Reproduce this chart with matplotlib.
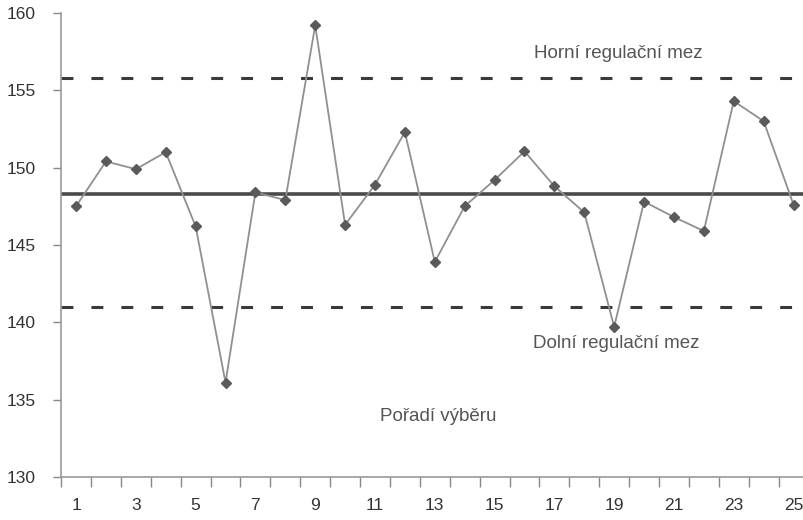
import matplotlib
matplotlib.use("Agg")
import matplotlib.pyplot as plt
import numpy as np

# sample order and measured values
samples = np.arange(1, 26)
values = [147.5, 150.4, 149.9, 151.0, 146.2, 136.1, 148.4, 147.9, 159.2, 146.3,
          148.9, 152.3, 143.9, 147.5, 149.2, 151.05, 148.8, 147.1, 139.7, 147.8,
          146.8, 145.9, 154.3, 153.0, 147.6]
center_line = 148.3
upper_limit = 155.8
lower_limit = 141.0
x_labels = [str(i) for i in range(1, 26, 2)]
y_ticks = [130, 135, 140, 145, 150, 155, 160]

plt.rcParams['font.family'] = ['Liberation Sans', 'DejaVu Sans']

fig = plt.figure(figsize=(8.04, 5.2), dpi=100)
ax = fig.add_axes([0.076, 0.083, 0.924, 0.892])

ax.axhline(center_line, color='#4a4a4a', lw=2.6, zorder=2)
ax.axhline(upper_limit, color='#3a3a3a', lw=2.2, ls=(0, (3.9, 5.9)), zorder=2)
ax.axhline(lower_limit, color='#3a3a3a', lw=2.2, ls=(0, (3.9, 5.9)), zorder=2)
ax.plot(samples, values, color='#909090', lw=1.3, marker='D', ms=5.5,
        mfc='#5a5a5a', mec='#5a5a5a', zorder=3)

ax.text(19.13, 157.4, 'Horní regulační mez', fontsize=13.5, color='#555555',
        ha='center', va='center')
ax.text(19.07, 138.6, 'Dolní regulační mez', fontsize=13.5, color='#555555',
        ha='center', va='center')
ax.text(13.13, 133.9, 'Pořadí výběru', fontsize=13.5, color='#555555',
        ha='center', va='center')

ax.set_xlim(0.5, 25.35)
ax.set_ylim(130, 160)
ax.set_xticks(np.arange(1, 26, 2))
ax.set_xticklabels(x_labels)
ax.set_xticks(np.arange(0.5, 25.5, 1), minor=True)
ax.tick_params(axis='x', which='major', length=0, pad=15, labelsize=12.5, labelcolor='#333333')
ax.tick_params(axis='x', which='minor', length=7, width=1, color='#888888', direction='out')
ax.set_yticks(y_ticks)
ax.tick_params(axis='y', length=6, width=1, color='#888888', pad=12, labelsize=12.5,
               labelcolor='#333333')

for side in ['top', 'right']:
    ax.spines[side].set_visible(False)
for side in ['left', 'bottom']:
    ax.spines[side].set_color('#999999')
    ax.spines[side].set_linewidth(1.2)

fig.savefig('out.png', dpi=100)
